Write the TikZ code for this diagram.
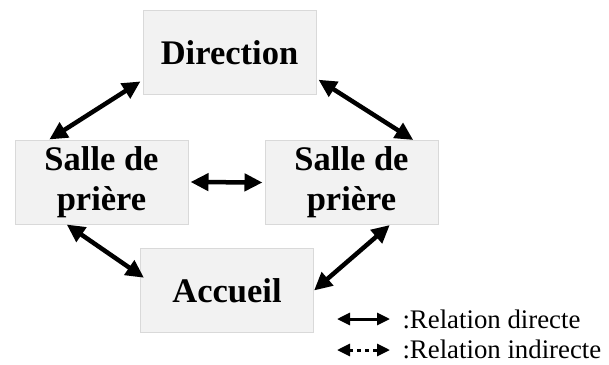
\documentclass[tikz,border=0pt]{standalone}
\usepackage{fontspec}
\setmainfont{Liberation Serif}
\usetikzlibrary{arrows.meta,calc}

\begin{document}
\begin{tikzpicture}[x=1pt,y=-1pt,>={Triangle[length=18pt,width=17pt]},
  place/.style={draw=gray!30,line width=1pt,fill=gray!10,minimum width=173pt,minimum height=84pt,
    inner sep=0pt,align=center,font=\fontsize{34.5}{40}\selectfont\bfseries},
  link/.style={<->,line width=4.5pt},
  legarrow/.style={{Triangle[length=13pt,width=12pt]}-{Triangle[length=13pt,width=12pt]},line width=3pt}]
  \useasboundingbox (0,0) rectangle (609,364);
  \node[place] (dir) at (229.5,52.5) {Direction};
  \node[place] (lsalle) at (101.5,182) {Salle de\\prière};
  \node[place] (rsalle) at (351.5,182.5) {Salle de\\prière};
  \node[place] (acc) at (227,290.5) {Accueil};
  \draw[link] ($(lsalle.north west)!0.2!(lsalle.north east)$) -- ($(dir.north west)!0.84!(dir.south west)+(-2,0)$);
  \draw[link] ($(rsalle.north west)!0.855!(rsalle.north east)$) -- ($(dir.north east)!0.82!(dir.south east)+(2,0)$);
  \draw[link] ($(lsalle.south west)!0.3!(lsalle.south east)$) -- ($(acc.north west)!0.35!(acc.south west)+(4,0)$);
  \draw[link] ($(rsalle.south west)!0.72!(rsalle.south east)$) -- (acc.east);
  \draw[link] ([xshift=2pt]lsalle.east) -- ([xshift=-2pt]rsalle.west);
  % legende
  \node[anchor=base west,font=\fontsize{26.8}{30}\selectfont] (ldirect) at (399,328) {:Relation directe};
  \node[anchor=base west,font=\fontsize{26.8}{30}\selectfont] (lindirect) at (399,358) {:Relation indirecte};
  \coordinate (d1) at (337,319); \coordinate (d2) at (390,319);
  \coordinate (i1) at (337,350); \coordinate (i2) at (390,350);
  \draw[legarrow] (d1) -- (d2);
  \draw[legarrow,dash pattern=on 4pt off 4pt] (i1) -- (i2);
\end{tikzpicture}
\end{document}
